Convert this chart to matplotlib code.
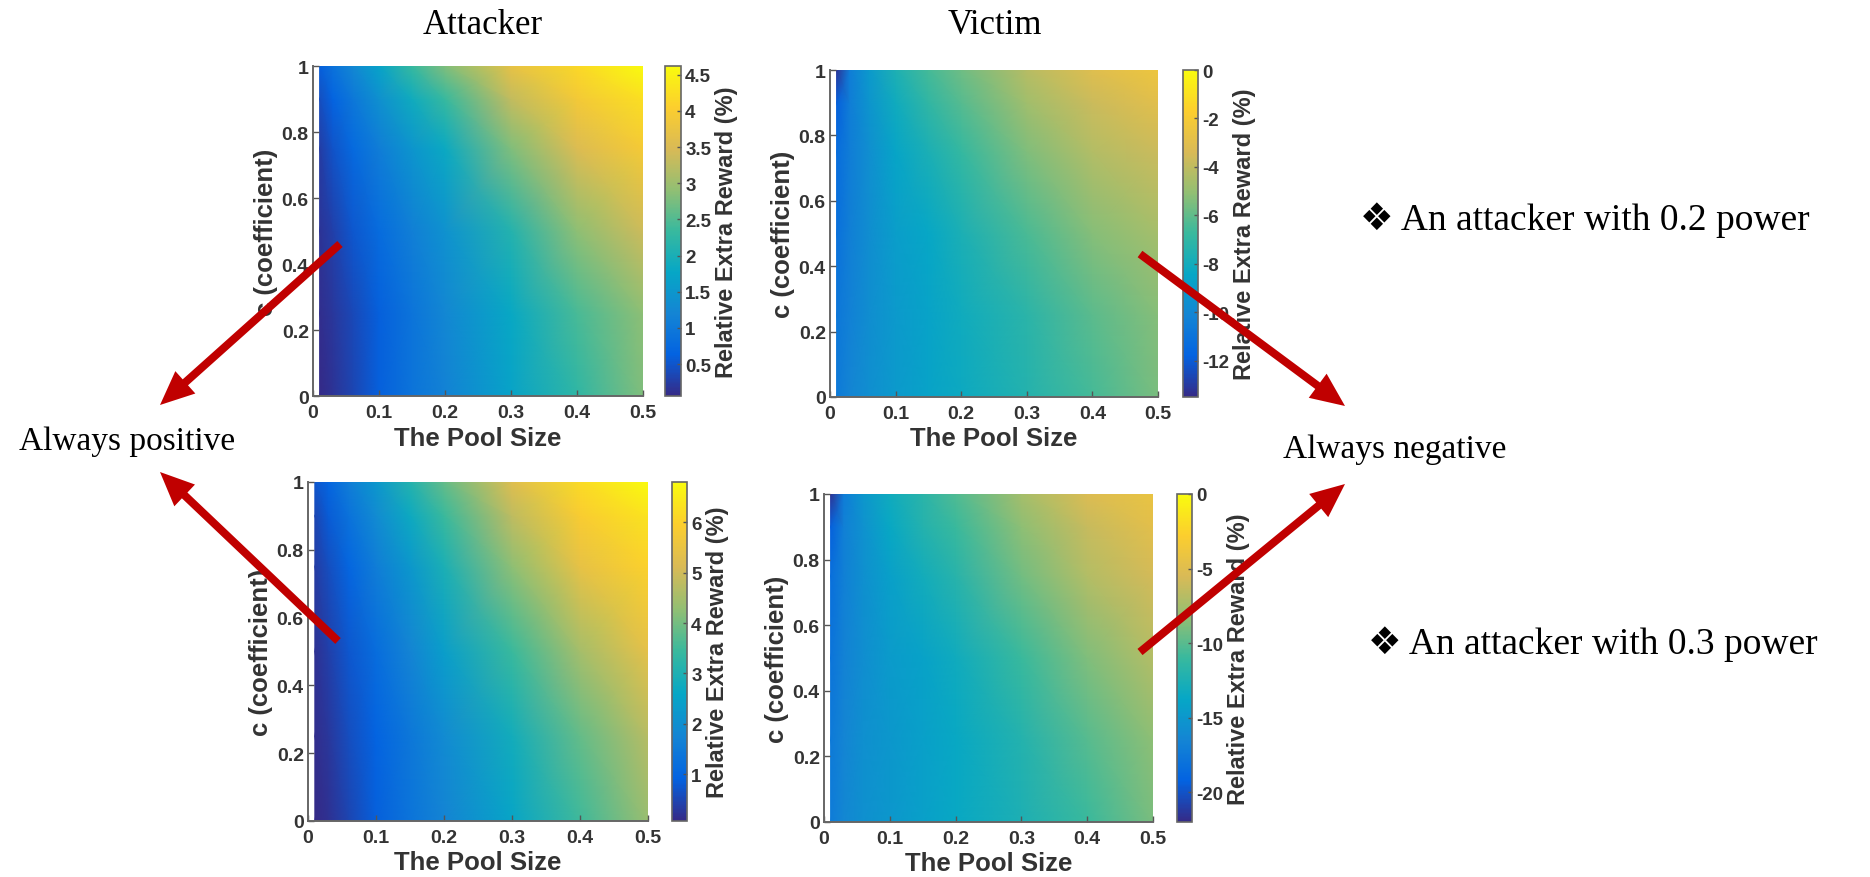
import matplotlib.pyplot as plt
import numpy as np
from matplotlib.colors import LinearSegmentedColormap

W, H = 1870, 878

pool_size = [0.01, 0.03, 0.06, 0.10, 0.15, 0.20, 0.30, 0.40, 0.50]
coefficient = [0.0, 0.25, 0.5, 0.75, 0.9, 1.0]

# relative extra reward (%), rows follow coefficient, columns follow pool_size
attacker_02 = [
    [0.06, 0.15, 0.33, 0.61, 0.93, 1.15, 1.70, 2.25, 2.80],
    [0.11, 0.20, 0.38, 0.61, 0.93, 1.25, 1.79, 2.43, 2.89],
    [0.15, 0.29, 0.52, 0.79, 1.11, 1.43, 2.11, 2.89, 3.39],
    [0.24, 0.47, 0.74, 1.06, 1.47, 1.84, 2.80, 3.53, 3.94],
    [0.42, 0.65, 0.97, 1.38, 1.88, 2.34, 3.30, 3.89, 4.26],
    [0.61, 0.88, 1.25, 1.70, 2.34, 2.80, 3.71, 4.16, 4.62],
]
victim_02 = [
    [-10.7, -10.1, -9.6, -9.1, -8.6, -8.2, -7.4, -6.5, -5.5],
    [-10.8, -10.3, -9.7, -9.1, -8.6, -8.1, -7.2, -6.1, -5.3],
    [-11.1, -10.4, -9.7, -8.9, -8.4, -7.7, -6.4, -5.3, -4.6],
    [-11.3, -10.5, -9.6, -8.5, -7.7, -6.9, -5.4, -4.3, -3.7],
    [-11.9, -10.5, -9.3, -8.1, -7.0, -6.2, -4.7, -3.7, -3.0],
    [-13.2, -10.5, -9.1, -7.6, -6.5, -5.7, -4.2, -3.1, -2.4],
]
attacker_03 = [
    [0.07, 0.20, 0.47, 0.88, 1.35, 1.75, 2.56, 3.50, 4.38],
    [0.14, 0.27, 0.61, 0.94, 1.42, 1.89, 2.83, 3.84, 4.71],
    [0.20, 0.41, 0.74, 1.15, 1.75, 2.36, 3.44, 4.51, 5.39],
    [0.34, 0.61, 1.01, 1.55, 2.22, 2.96, 4.24, 5.45, 5.99],
    [0.47, 0.81, 1.28, 1.89, 2.70, 3.44, 4.78, 5.86, 6.33],
    [0.74, 1.01, 1.55, 2.22, 3.10, 3.84, 5.25, 6.19, 6.80],
]
victim_03 = [
    [-17.2, -16.3, -15.6, -15.0, -14.3, -13.6, -12.5, -11.0, -9.0],
    [-17.4, -16.5, -15.6, -15.0, -14.3, -13.6, -12.1, -10.1, -8.4],
    [-17.8, -16.7, -15.8, -14.7, -14.1, -13.2, -11.0, -8.8, -7.0],
    [-18.3, -16.9, -15.6, -14.3, -13.0, -11.9, -9.2, -7.0, -5.7],
    [-19.4, -16.9, -15.4, -13.6, -12.1, -11.0, -8.4, -6.2, -4.8],
    [-21.6, -17.2, -15.0, -13.2, -11.7, -10.3, -7.5, -5.3, -4.2],
]

clim_attacker_02 = (0.06, 4.62)
clim_victim_02 = (-13.5, 0.0)
clim_attacker_03 = (0.07, 6.8)
clim_victim_03 = (-22.0, 0.0)

ticks_attacker_02 = [0.5, 1, 1.5, 2, 2.5, 3, 3.5, 4, 4.5]
ticks_victim_02 = [-12, -10, -8, -6, -4, -2, 0]
ticks_attacker_03 = [1, 2, 3, 4, 5, 6]
ticks_victim_03 = [-20, -15, -10, -5, 0]

x_ticks = [0, 0.1, 0.2, 0.3, 0.4, 0.5]
y_ticks = [0, 0.2, 0.4, 0.6, 0.8, 1]

parula = LinearSegmentedColormap.from_list(
    "parula",
    ["#352a87", "#0363e1", "#1485d4", "#06a7c6", "#38b99e",
     "#92bf73", "#d9ba56", "#fcce2e", "#f9fb0e"],
)

GRAY = "#333333"
SERIF = ["Liberation Serif", "DejaVu Sans"]
SANS = "Liberation Sans"


def px_box(left, top, right, bottom):
    return [left / W, (H - bottom) / H, (right - left) / W, (bottom - top) / H]


def fmt(v):
    return f"{v:g}"


def panel(fig, box, cbox, values, clim, cticks):
    ax = fig.add_axes(px_box(*box))
    X, Y = np.meshgrid(pool_size, coefficient)
    mesh = ax.pcolormesh(X, Y, np.array(values), cmap=parula, shading="gouraud",
                         vmin=clim[0], vmax=clim[1])
    ax.set_xlim(0, 0.5)
    ax.set_ylim(0, 1)
    ax.set_xticks(x_ticks, [fmt(t) for t in x_ticks])
    ax.set_yticks(y_ticks, [fmt(t) for t in y_ticks])
    ax.tick_params(direction="in", length=4, width=1, color="#555555",
                   labelsize=14, labelcolor=GRAY, pad=3)
    ax.tick_params(axis="x", pad=6)
    for lab in ax.get_xticklabels() + ax.get_yticklabels():
        lab.set_fontweight("bold")
        lab.set_fontfamily(SANS)
    for side in ("top", "right"):
        ax.spines[side].set_visible(False)
    for side in ("left", "bottom"):
        ax.spines[side].set_color("#666666")
        ax.spines[side].set_linewidth(1.4)
    ax.set_xlabel("The Pool Size", fontsize=18.5, fontweight="bold", color=GRAY,
                  family=SANS, labelpad=3)
    ax.set_ylabel("c (coefficient)", fontsize=18.5, fontweight="bold", color=GRAY,
                  family=SANS, labelpad=3)

    cax = fig.add_axes(px_box(*cbox))
    cb = fig.colorbar(mesh, cax=cax, ticks=cticks)
    cb.ax.set_yticklabels([fmt(t) for t in cticks])
    cb.outline.set_edgecolor("#666666")
    cb.outline.set_linewidth(1.2)
    cb.ax.tick_params(direction="in", length=3, width=1, color="#555555",
                      labelsize=13.5, labelcolor=GRAY, pad=3)
    for lab in cb.ax.get_yticklabels():
        lab.set_fontweight("bold")
        lab.set_fontfamily(SANS)
    cb.set_label("Relative Extra Reward (%)", fontsize=17, fontweight="bold",
                 color=GRAY, family=SANS, labelpad=3)
    return ax


fig = plt.figure(figsize=(W / 100, H / 100), dpi=100)

panel(fig, (313, 67, 643, 397), (665, 67, 681, 397),
      attacker_02, clim_attacker_02, ticks_attacker_02)
panel(fig, (830, 71, 1158, 398), (1183, 71, 1198, 398),
      victim_02, clim_victim_02, ticks_victim_02)
panel(fig, (308, 483, 648, 822), (672, 483, 687, 822),
      attacker_03, clim_attacker_03, ticks_attacker_03)
panel(fig, (824, 495, 1153, 823), (1177, 495, 1192, 823),
      victim_03, clim_victim_03, ticks_victim_03)

# overlay in pixel units for the slide annotations
over = fig.add_axes([0, 0, 1, 1], zorder=10)
over.set_xlim(0, W)
over.set_ylim(H, 0)
over.axis("off")
over.patch.set_visible(False)

over.text(483, 26, "Attacker", fontsize=25, family=SERIF, ha="center", va="center")
over.text(995, 26, "Victim", fontsize=25, family=SERIF, ha="center", va="center")
over.text(127, 442, "Always positive", fontsize=24, family=SERIF, ha="center", va="center")
over.text(1395, 450, "Always negative", fontsize=24, family=SERIF, ha="center", va="center")
over.text(1360, 220, "\u2756 An attacker with 0.2 power", fontsize=27, family=SERIF,
          ha="left", va="center")
over.text(1368, 644, "\u2756 An attacker with 0.3 power", fontsize=27, family=SERIF,
          ha="left", va="center")

arrows = [
    ((340, 245), (160, 406)),
    ((338, 642), (160, 473)),
    ((1140, 255), (1345, 407)),
    ((1140, 653), (1345, 485)),
]
for (x0, y0), (x1, y1) in arrows:
    over.arrow(x0, y0, x1 - x0, y1 - y0, width=8, head_width=30, head_length=34,
               length_includes_head=True, color="#c00000", lw=0)

fig.savefig("out.png", dpi=100)
